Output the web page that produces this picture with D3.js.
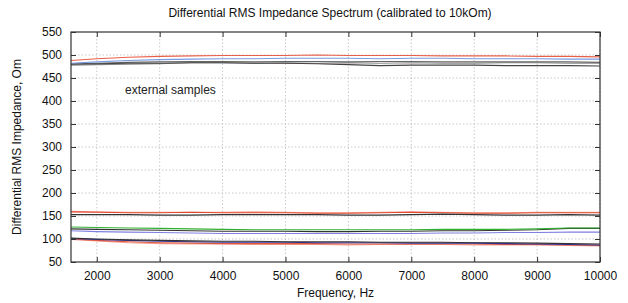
<!DOCTYPE html>
<html>
<head>
<meta charset="utf-8">
<script src="https://cdn.jsdelivr.net/npm/d3@7"></script>
<style>
  body { margin: 0; background: #fff; }
  svg { font-family: "Liberation Sans", Arial, sans-serif; }
</style>
</head>
<body>
<div id="chart"></div>
<script>
// frequencies, Hz
var freqs = [1590, 2000, 2500, 3000, 3500, 4000, 4500, 5000, 5500, 6000, 6500, 7000, 7500, 8000, 8500, 9000, 9500, 10000];

// external samples (~480-500 Om)
var red1   = [488, 492, 495, 497, 498, 499, 499, 499, 500, 499, 499, 499, 498, 498, 498, 497, 497, 496];
var blue1  = [482, 485, 488, 490, 491, 492, 492, 493, 493, 493, 492, 493, 493, 492, 492, 492, 491, 491];
var gray1  = [481, 482, 484, 485, 486, 486, 485, 486, 486, 485, 486, 486, 485, 485, 485, 485, 485, 484];
var gray2  = [478, 479, 480, 481, 483, 483, 482, 483, 482, 483, 482, 483, 482, 482, 483, 483, 482, 482];
var black1 = [480, 481, 482, 482, 483, 483, 482, 482, 481, 479, 477, 478, 478, 478, 477, 477, 477, 476];

// ~150 Om
var red2   = [159, 158, 157, 157, 158, 157, 157, 157, 156, 156, 157, 158, 157, 156, 156, 157, 157, 157];
var salm2  = [160, 159, 158, 158, 158, 158, 159, 158, 157, 157, 158, 159, 158, 157, 157, 158, 158, 158];
var black2 = [153, 153, 153, 152, 152, 153, 153, 153, 153, 152, 152, 153, 154, 153, 152, 152, 153, 152];

// ~120 Om
var green3 = [126, 125, 124, 123, 122, 121, 120, 120, 120, 120, 120, 120, 121, 121, 121, 122, 124, 124];
var black3 = [122, 121, 120, 119, 118, 117, 117, 117, 116, 116, 117, 117, 118, 118, 119, 120, 123, 123];
var blue3  = [118, 116, 115, 114, 113, 112, 112, 112, 112, 112, 112, 112, 113, 113, 114, 114, 115, 115];

// ~90 Om
var black4 = [102, 100, 98, 97, 96, 95, 95, 94, 94, 94, 93, 93, 93, 92, 92, 91, 90, 89];
var navy4  = [101, 99, 97, 95, 94, 93, 93, 93, 92, 92, 92, 91, 91, 91, 90, 89, 88, 87];
var red4   = [100, 97, 94, 92, 91, 90, 90, 90, 90, 89, 89, 89, 89, 89, 88, 88, 87, 86];
var salm4  = [99, 96, 92, 90, 89, 89, 88, 88, 88, 87, 88, 88, 88, 87, 87, 87, 86, 85];

var xTicks = [2000, 3000, 4000, 5000, 6000, 7000, 8000, 9000, 10000];
var yTicks = [50, 100, 150, 200, 250, 300, 350, 400, 450, 500, 550];

var series = [
  {v: salm2, c: '#f4a090'}, {v: red2, c: '#e04a30'}, {v: black2, c: '#333'},
  {v: gray2, c: '#888'}, {v: gray1, c: '#666'}, {v: black1, c: '#444'},
  {v: blue1, c: '#7a9be0'}, {v: red1, c: '#e8604a'},
  {v: blue3, c: '#8080e0'}, {v: black3, c: '#333'}, {v: green3, c: '#30b030'},
  {v: salm4, c: '#f4a090'}, {v: red4, c: '#e05a40'}, {v: navy4, c: '#3030a0'}, {v: black4, c: '#333'}
];

var W = 628, H = 303;
var m = {top: 32, right: 28, bottom: 41, left: 71};
var w = W - m.left - m.right, h = H - m.top - m.bottom;

var svg = d3.select('#chart').append('svg').attr('width', W).attr('height', H);
var g = svg.append('g').attr('transform', 'translate(' + m.left + ',' + m.top + ')');

var x = d3.scaleLinear().domain([1590, 10000]).range([0, w]);
var y = d3.scaleLinear().domain([50, 550]).range([h, 0]);

// grid
g.selectAll('.gx').data(xTicks).enter().append('line')
  .attr('x1', d => x(d)).attr('x2', d => x(d)).attr('y1', 0).attr('y2', h)
  .attr('stroke', '#bbb').attr('stroke-width', 0.8).attr('stroke-dasharray', '1.5,2');
g.selectAll('.gy').data(yTicks.slice(1, -1)).enter().append('line')
  .attr('x1', 0).attr('x2', w).attr('y1', d => y(d)).attr('y2', d => y(d))
  .attr('stroke', '#bbb').attr('stroke-width', 0.8).attr('stroke-dasharray', '1.5,2');

// lines
var line = d3.line().x((d, i) => x(freqs[i])).y(d => y(d));
series.forEach(function(s) {
  g.append('path').attr('d', line(s.v)).attr('fill', 'none')
    .attr('stroke', s.c).attr('stroke-width', 1.1);
});

// axes, ticks inward
var tk = 5;
g.append('g').attr('transform', 'translate(0,' + h + ')')
  .call(d3.axisBottom(x).tickValues(xTicks).tickSize(-tk).tickPadding(9).tickFormat(d3.format('d')));
g.append('g').call(d3.axisTop(x).tickValues(xTicks).tickSize(-tk).tickFormat(''));
g.append('g').call(d3.axisLeft(y).tickValues(yTicks).tickSize(-tk).tickPadding(9));
g.append('g').attr('transform', 'translate(' + w + ',0)')
  .call(d3.axisRight(y).tickValues(yTicks).tickSize(-tk).tickFormat(''));
g.selectAll('.domain').remove();
g.selectAll('.tick line').attr('stroke', '#333');
g.selectAll('.tick text').attr('font-size', 12).attr('fill', '#111')
  .attr('font-family', '"Liberation Sans", Arial, sans-serif');

g.append('rect').attr('width', w).attr('height', h)
  .attr('fill', 'none').attr('stroke', '#333').attr('stroke-width', 1.2);

// texts
svg.append('text').attr('x', 330).attr('y', 17).attr('text-anchor', 'middle')
  .attr('font-size', 12).attr('fill', '#111')
  .text('Differential RMS Impedance Spectrum (calibrated to 10kOm)');
svg.append('text').attr('x', m.left + w / 2).attr('y', 297).attr('text-anchor', 'middle')
  .attr('font-size', 12).attr('fill', '#111').text('Frequency, Hz');
svg.append('text').attr('transform', 'translate(21,' + (m.top + h / 2) + ') rotate(-90)')
  .attr('text-anchor', 'middle').attr('font-size', 12).attr('fill', '#111')
  .text('Differential RMS Impedance, Om');
g.append('text').attr('x', x(2450)).attr('y', y(425)).attr('dy', '0.35em')
  .attr('font-size', 12).attr('fill', '#222').text('external samples');
</script>
</body>
</html>
